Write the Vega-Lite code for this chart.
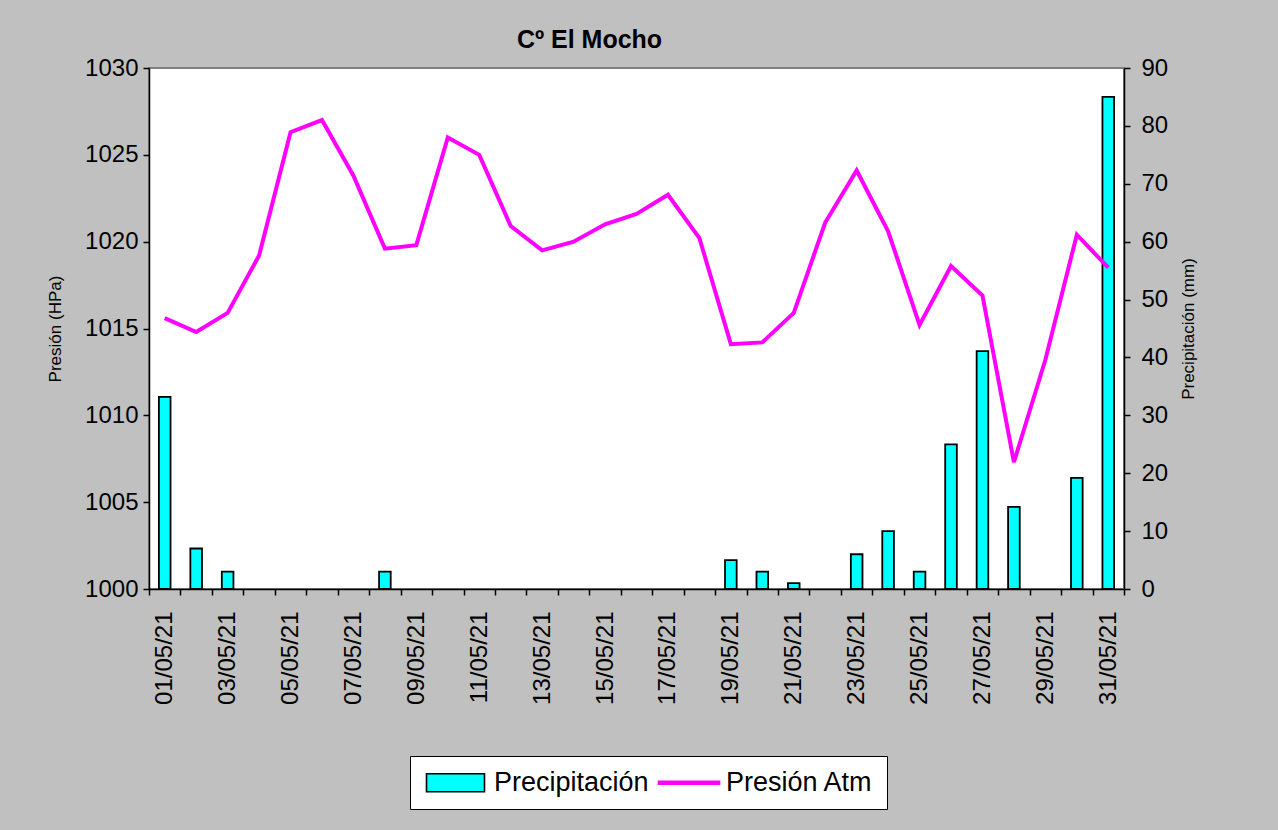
{
  "$schema": "https://vega.github.io/schema/vega-lite/v6.json",
  "width": 975,
  "height": 521,
  "autosize": {"type": "none"},
  "padding": {"left": 149, "top": 68, "right": 154, "bottom": 241},
  "background": "#C0C0C0",
  "config": {
    "view": {"fill": "white", "stroke": "#808080", "strokeWidth": 2},
    "axis": {
      "grid": false,
      "domainColor": "black",
      "domainWidth": 1.5,
      "tickColor": "black",
      "tickWidth": 1.5,
      "tickSize": 6,
      "labelColor": "black",
      "labelFont": "Liberation Sans",
      "labelFontSize": 24,
      "titleColor": "black",
      "titleFont": "Liberation Sans",
      "titleFontSize": 17,
      "titleFontWeight": "normal"
    }
  },
  "title": {
    "text": "Cº El Mocho",
    "font": "Liberation Sans",
    "fontSize": 25,
    "fontWeight": "bold",
    "color": "black",
    "anchor": "middle",
    "dx": -47,
    "offset": 3
  },
  "data": {
    "values": [
      {"date": "01/05/21", "pres": 1015.6, "precip": 33.2},
      {"date": "02/05/21", "pres": 1014.8, "precip": 7},
      {"date": "03/05/21", "pres": 1015.9, "precip": 3},
      {"date": "04/05/21", "pres": 1019.2, "precip": 0},
      {"date": "05/05/21", "pres": 1026.3, "precip": 0},
      {"date": "06/05/21", "pres": 1027.0, "precip": 0},
      {"date": "07/05/21", "pres": 1023.8, "precip": 0},
      {"date": "08/05/21", "pres": 1019.6, "precip": 3},
      {"date": "09/05/21", "pres": 1019.8, "precip": 0},
      {"date": "10/05/21", "pres": 1026.0, "precip": 0},
      {"date": "11/05/21", "pres": 1025.0, "precip": 0},
      {"date": "12/05/21", "pres": 1020.9, "precip": 0},
      {"date": "13/05/21", "pres": 1019.5, "precip": 0},
      {"date": "14/05/21", "pres": 1020.0, "precip": 0},
      {"date": "15/05/21", "pres": 1021.0, "precip": 0},
      {"date": "16/05/21", "pres": 1021.6, "precip": 0},
      {"date": "17/05/21", "pres": 1022.7, "precip": 0},
      {"date": "18/05/21", "pres": 1020.2, "precip": 0},
      {"date": "19/05/21", "pres": 1014.1, "precip": 5},
      {"date": "20/05/21", "pres": 1014.2, "precip": 3},
      {"date": "21/05/21", "pres": 1015.9, "precip": 1},
      {"date": "22/05/21", "pres": 1021.1, "precip": 0},
      {"date": "23/05/21", "pres": 1024.1, "precip": 6},
      {"date": "24/05/21", "pres": 1020.6, "precip": 10},
      {"date": "25/05/21", "pres": 1015.2, "precip": 3},
      {"date": "26/05/21", "pres": 1018.6, "precip": 25},
      {"date": "27/05/21", "pres": 1016.9, "precip": 41.1},
      {"date": "28/05/21", "pres": 1007.3, "precip": 14.2},
      {"date": "29/05/21", "pres": 1013.2, "precip": 0},
      {"date": "30/05/21", "pres": 1020.4, "precip": 19.2},
      {"date": "31/05/21", "pres": 1018.5, "precip": 85}
    ]
  },
  "encoding": {
    "x": {
      "field": "date",
      "type": "ordinal",
      "scale": {"type": "band", "paddingInner": 0, "paddingOuter": 0},
      "axis": {
        "title": null,
        "labelAngle": -90,
        "labelPadding": 16,
        "tickBand": "extent",
        "labelExpr": "toNumber(substring(datum.value, 0, 2)) % 2 === 1 ? datum.value : ''"
      }
    }
  },
  "layer": [
    {
      "transform": [{"filter": "datum.precip > 0"}],
      "encoding": {
        "y": {
          "field": "precip",
          "type": "quantitative",
          "scale": {"domain": [0, 90], "nice": false},
          "axis": {
            "orient": "right",
            "values": [0, 10, 20, 30, 40, 50, 60, 70, 80, 90],
            "title": "Precipitación (mm)",
            "titleAngle": 270,
            "titleBaseline": "top",
            "titlePadding": 13,
            "labelPadding": 11
          }
        }
      },
      "layer": [
        {
          "mark": {"type": "bar", "width": {"band": 0.37}},
          "encoding": {
            "color": {
              "datum": "Precipitación",
              "type": "nominal",
              "scale": {"domain": ["Precipitación", "Presión Atm"], "range": ["#00FFFF", "#FF00FF"]},
              "legend": {
                "orient": "none",
                "legendX": 261,
                "legendY": 688,
                "direction": "horizontal",
                "columns": 2,
                "title": null,
                "fillColor": "white",
                "strokeColor": "black",
                "padding": 13,
                "labelFont": "Liberation Sans",
                "labelFontSize": 27,
                "labelColor": "black",
                "labelLimit": 400,
                "symbolSize": 400,
                "symbolType": {"expr": "datum.value === 'Presión Atm' ? 'M-1,-0.14H5.1V0.14H-1Z' : 'M-1,-0.9H4.8V0.9H-1Z'"},
                "symbolStrokeColor": {"expr": "datum.value === 'Presión Atm' ? '#FF00FF' : '#000000'"},
                "symbolStrokeWidth": 1.6,
                "symbolOpacity": 1,
                "labelOffset": 44,
                "columnPadding": 6
              }
            }
          }
        },
        {
          "mark": {"type": "bar", "width": {"band": 0.37}, "fill": "transparent", "stroke": "black", "strokeWidth": 1.8}
        }
      ]
    },
    {
      "mark": {"type": "line", "stroke": "#FF00FF", "strokeWidth": 4, "strokeJoin": "miter"},
      "encoding": {
        "y": {
          "field": "pres",
          "type": "quantitative",
          "scale": {"domain": [1000, 1030], "nice": false, "zero": false},
          "axis": {
            "orient": "left",
            "values": [1000, 1005, 1010, 1015, 1020, 1025, 1030],
            "format": "d",
            "title": "Presión (HPa)",
            "titlePadding": 20,
            "labelPadding": 5
          }
        }
      }
    }
  ],
  "resolve": {"scale": {"y": "independent"}, "axis": {"y": "independent"}}
}
